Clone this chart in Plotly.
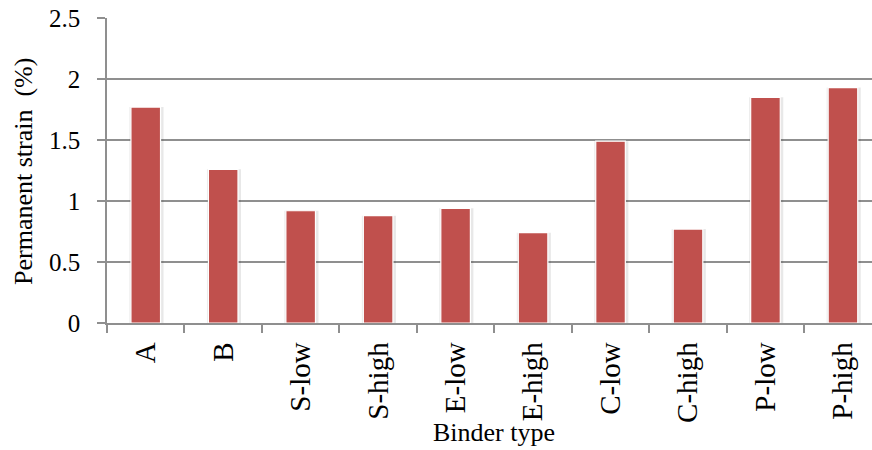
import plotly.graph_objects as go

categories = ["A", "B", "S-low", "S-high", "E-low", "E-high", "C-low", "C-high", "P-low", "P-high"]
strain = [1.77, 1.26, 0.92, 0.88, 0.94, 0.74, 1.49, 0.77, 1.85, 1.93]
y_ticks = [0, 0.5, 1, 1.5, 2, 2.5]
y_tick_labels = ["0", "0.5", "1", "1.5", "2", "2.5"]

FONT = "Liberation Serif, Times New Roman, serif"
GRID = "#8f8f8f"

fig = go.Figure()
# soft shadow around bars
fig.add_trace(go.Bar(
    x=categories, y=strain, width=0.44, offset=-0.21,
    marker=dict(color="rgba(0,0,0,0.09)", line=dict(width=0)),
    hoverinfo="skip", showlegend=False,
))
fig.add_trace(go.Bar(
    x=categories, y=strain, width=0.382,
    marker=dict(color="#C0504D", line=dict(color="#ffffff", width=1.2)),
    showlegend=False,
))

fig.update_layout(
    width=872, height=450,
    margin=dict(l=107, r=0, t=18, b=127),
    paper_bgcolor="white", plot_bgcolor="white",
    barmode="overlay",
    font=dict(family=FONT, color="black"),
    xaxis=dict(
        type="category", range=[-0.5, 9.375],
        showgrid=False, showline=True, linecolor=GRID, linewidth=1.5,
        ticks="outside", tickson="boundaries", ticklen=8, tickcolor=GRID, tickwidth=1.5,
        tickangle=-90, tickfont=dict(family=FONT, size=29, color="black"),
        ticklabelstandoff=6,
    ),
    yaxis=dict(
        range=[0, 2.5], tickvals=y_ticks, ticktext=y_tick_labels,
        showgrid=True, gridcolor=GRID, gridwidth=1.5,
        showline=True, linecolor=GRID, linewidth=1.5,
        ticks="outside", ticklen=8, tickcolor=GRID, tickwidth=1.5,
        tickfont=dict(family=FONT, size=25, color="black"),
        ticklabelstandoff=12,
        zeroline=False,
    ),
    annotations=[
        dict(text="Binder type", xref="paper", yref="paper", x=(494 - 107) / 765, y=-(432 - 323) / 305,
             xanchor="center", yanchor="middle", showarrow=False,
             font=dict(family=FONT, size=26, color="black")),
        dict(text="Permanent strain  (%)", xref="paper", yref="paper", x=(24 - 107) / 765, y=(323 - 172) / 305,
             xanchor="center", yanchor="middle", textangle=-90, showarrow=False,
             font=dict(family=FONT, size=26, color="black")),
    ],
)

fig.write_html("out.html")
